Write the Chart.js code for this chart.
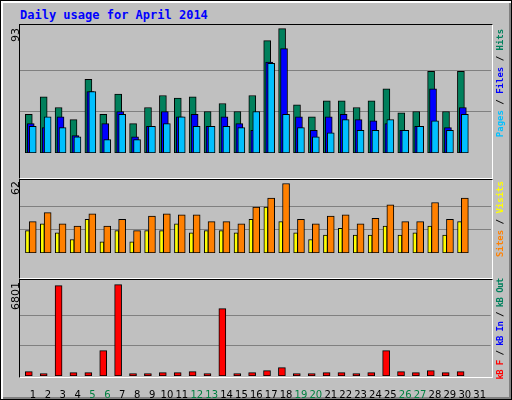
<!DOCTYPE html>
<html><head><meta charset="utf-8">
<script src="https://cdn.jsdelivr.net/npm/chart.js@4"></script>
<style>
body{margin:0;background:#fff}
#f{position:relative;width:510px;height:398px;background:#c0c0c0;border:1px solid #000;box-shadow:inset 2px 2px 0 #fff,inset -2px -2px 0 #808080;overflow:hidden;font-family:"DejaVu Sans Mono",monospace}
canvas{position:absolute}
.fr{position:absolute;border-top:1px solid #000;border-left:1px solid #000;border-right:1px solid #fff;border-bottom:1px solid #fff;box-sizing:border-box;pointer-events:none}
.r{position:absolute;transform:translate(-50%,-50%) rotate(-90deg);white-space:nowrap;font-size:9px;font-weight:bold}
.l{position:absolute;transform:translate(-50%,-50%) rotate(-90deg);white-space:nowrap;font-family:"DejaVu Sans",sans-serif;font-size:11px}
#t{position:absolute;left:19px;top:7px;color:#0000ff;font-weight:bold;font-size:12px}
</style></head><body>
<div id="f">
<div id="t">Daily usage for April 2014</div>
<canvas id="c1" width="471" height="152" style="left:19px;top:24px"></canvas>
<canvas id="c2" width="471" height="97" style="left:19px;top:179px"></canvas>
<canvas id="c3" width="471" height="120" style="left:19px;top:279px"></canvas>
<div class="fr" style="left:18px;top:23px;width:474px;height:155px"></div>
<div class="fr" style="left:18px;top:178px;width:474px;height:100px"></div>
<div class="fr" style="left:18px;top:278px;width:474px;height:99px"></div>
<div class="l" style="left:14px;top:34px">93</div>
<div class="l" style="left:14px;top:187px">62</div>
<div class="l" style="left:14px;top:295px">6801</div>
<div class="r" style="left:499px;top:82px"><span style="color:#00c0ff">Pages</span> / <span style="color:#0000ff">Files</span> / <span style="color:#00805c">Hits</span></div>
<div class="r" style="left:499px;top:218px"><span style="color:#ff8000">Sites</span> / <span style="color:#ffff00">Visits</span></div>
<div class="r" style="left:499px;top:328px;letter-spacing:-0.6px"><span style="color:#ff0000">kB F</span> / <span style="color:#0000ff">kB In</span> / <span style="color:#00805c">kB Out</span></div>
</div>
<script>
const days=[1,2,3,4,5,6,7,8,9,10,11,12,13,14,15,16,17,18,19,20,21,22,23,24,25,26,27,28,29,30,31];
const weekend=[5,6,12,13,19,20,26,27];
const hits=[29,42,34,25,55,29,44,22,34,43,41,42,31,37,31,43,84,93,36,27,39,39,34,39,48,30,31,61,31,61];
const files=[22,19,27,13,46,22,31,12,20,31,27,29,20,27,22,17,68,78,27,17,27,29,25,24,22,17,20,48,19,34];
const pages=[20,27,19,12,46,10,29,10,20,22,27,20,20,20,19,31,67,29,19,12,15,25,17,17,25,17,20,24,17,29];
const visits=[20,26,18,12,30,10,20,10,20,20,26,18,20,20,18,30,41,28,18,12,16,22,16,16,24,16,18,24,16,28];
const sites=[28,36,26,24,35,24,30,20,33,35,34,34,28,28,26,41,49,62,30,26,33,34,26,31,43,28,28,45,30,49];
const kbF=[322,174,6721,248,248,1885,6801,174,174,248,248,322,174,5010,174,248,397,620,174,174,248,248,174,248,1885,322,248,397,248,322];
const topGrid=[31,62], midGrid=[20.67,41.33], botGrid=[2267,4534];
const XMIN=0.13, XMAX=31.74;
const pts=(arr,off)=>arr.map((v,i)=>({x:days[i]+off,y:v}));
const ds=(arr,off,col,w,ord)=>({data:pts(arr,off),backgroundColor:col,borderColor:'#000',borderWidth:1,borderSkipped:false,barThickness:w,grouped:false,order:ord});
function mk(id,datasets,ymax,grid,showX){
  new Chart(document.getElementById(id),{type:'bar',data:{datasets},
  options:{responsive:false,animation:false,devicePixelRatio:1,layout:{padding:0},
   plugins:{legend:{display:false},tooltip:{enabled:false}},
   scales:{
    x:{type:'linear',offset:false,min:XMIN,max:XMAX,display:showX,grid:{display:false,offset:false},border:{display:false},
      afterBuildTicks:a=>{a.ticks=days.map(d=>({value:d}));},
      afterFit:s=>{s.height=24;},
      ticks:{autoSkip:false,maxRotation:0,padding:5,font:{family:'DejaVu Sans',size:10},
        color:c=>weekend.includes(c.tick.value)?'#008040':'#000',callback:v=>String(v)}},
    y:{min:0,max:ymax,display:true,border:{display:false},grid:{color:'#808080',drawTicks:false},
      ticks:{display:false},afterBuildTicks:a=>{a.ticks=grid.map(v=>({value:v}));},afterFit:s=>{s.width=0;}}
   }}});
}
mk('c1',[ds(pages,-0.015,'#00c0ff',7,1),ds(files,-0.15,'#0000ff',7,2),ds(hits,-0.28,'#00805c',7,3)],95.7,topGrid,false);
mk('c2',[ds(sites,-0.015,'#ff8000',7,1),ds(visits,-0.37,'#ffff00',4,2)],65.1,midGrid,false);
mk('c3',[ds(kbF,-0.28,'#ff0000',7,1)],7143,botGrid,true);
</script>
</body></html>
